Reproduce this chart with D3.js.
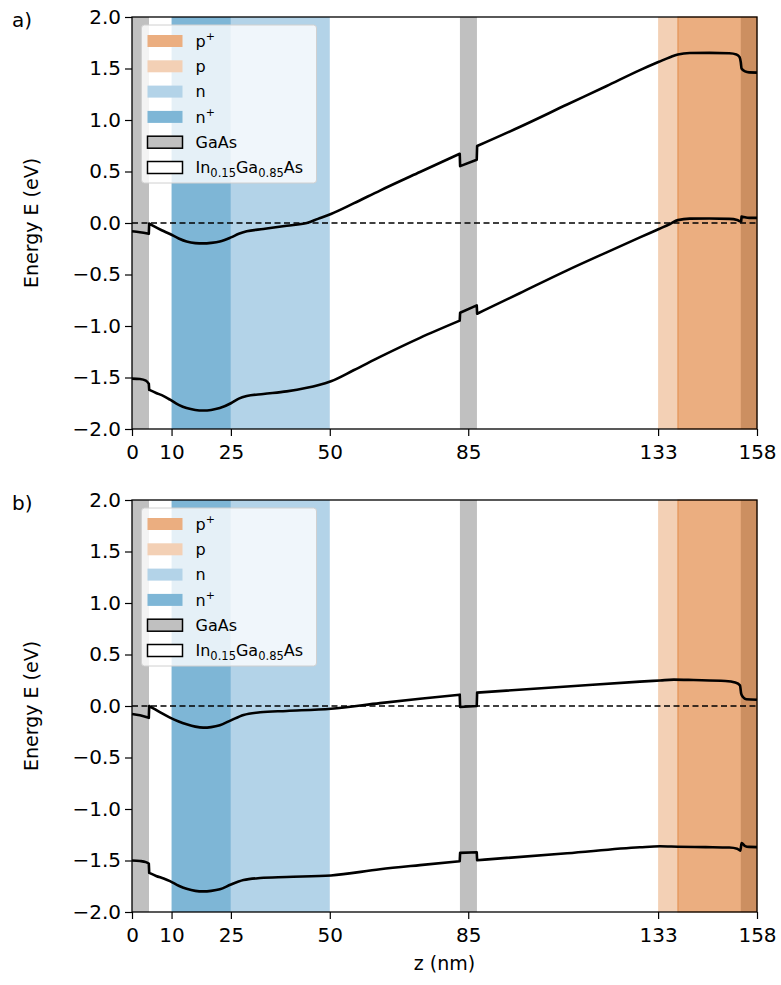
<!DOCTYPE html>
<html>
<head>
<meta charset="utf-8">
<script src="https://cdn.jsdelivr.net/npm/d3@7"></script>
<style>
  body { margin: 0; background: #fff; }
  text { font-family: "DejaVu Sans", sans-serif; }
</style>
</head>
<body>
<div id="my_dataviz"></div>
<script>
// band edges [z (nm), E (eV)]
var ecA = [[0,-0.08],[2,-0.09],[4.25,-0.105],[4.35,-0.005],[5.5,-0.03],[7.5,-0.07],[9.6,-0.107],[11.8,-0.15],[13.8,-0.18],[16,-0.195],[18,-0.198],[20,-0.193],[22.2,-0.18],[25,-0.14],[27,-0.105],[29,-0.081],[33.2,-0.058],[39.1,-0.026],[44.2,0.0],[47,0.04],[50.3,0.088],[56,0.19],[62.7,0.315],[72.8,0.495],[82.85,0.672],[82.95,0.552],[87.15,0.614],[87.25,0.747],[98,0.932],[110,1.15],[120,1.33],[128.4,1.484],[133.2,1.565],[136,1.61],[138,1.637],[141,1.651],[146,1.652],[151,1.648],[152.8,1.637],[153.6,1.61],[153.9,1.56],[154.1,1.5],[155,1.472],[156,1.462],[158,1.46]];
var evA = [[0,-1.511],[2,-1.515],[3.5,-1.53],[4.25,-1.56],[4.35,-1.62],[6.1,-1.65],[8,-1.68],[9.6,-1.715],[11.8,-1.765],[13.8,-1.797],[16,-1.815],[18,-1.82],[20,-1.815],[22.2,-1.797],[25,-1.75],[27,-1.705],[29,-1.68],[33.2,-1.66],[39.1,-1.635],[44.2,-1.6],[47,-1.575],[50.3,-1.536],[56,-1.43],[62.7,-1.3],[72.8,-1.115],[82.85,-0.948],[82.95,-0.871],[87.15,-0.8],[87.25,-0.881],[98,-0.682],[110,-0.46],[120,-0.285],[128.4,-0.14],[133.2,-0.058],[136,-0.01],[138,0.028],[141,0.042],[146,0.043],[151,0.04],[153,0.03],[153.8,0.015],[154,0.015],[154.1,0.062],[155,0.055],[156,0.05],[158,0.05]];
var ecB = [[0,-0.077],[2,-0.09],[4.25,-0.115],[4.35,0.0],[5.5,-0.025],[7.5,-0.07],[9.6,-0.113],[11.8,-0.15],[13.8,-0.177],[16,-0.2],[18,-0.21],[20,-0.205],[22.2,-0.187],[25,-0.139],[28.2,-0.087],[32.4,-0.061],[39.1,-0.048],[50.3,-0.026],[62.7,0.028],[72.8,0.07],[82.85,0.11],[82.95,-0.01],[87.15,0.0],[87.25,0.13],[110,0.19],[128.4,0.237],[133.5,0.248],[137,0.256],[142,0.252],[150,0.243],[152.5,0.228],[153.7,0.2],[154,0.12],[154.5,0.085],[155.3,0.066],[158,0.06]];
var evB = [[0,-1.5],[2,-1.505],[3.5,-1.516],[4.25,-1.53],[4.35,-1.62],[6.1,-1.65],[8,-1.675],[9.6,-1.7],[11.8,-1.745],[13.8,-1.775],[16,-1.795],[18,-1.8],[20,-1.795],[22.2,-1.78],[25,-1.733],[28.2,-1.69],[32.4,-1.67],[39.1,-1.66],[50.3,-1.645],[62.7,-1.585],[72.8,-1.545],[82.85,-1.507],[82.95,-1.426],[87.15,-1.42],[87.25,-1.497],[110,-1.43],[128.4,-1.372],[133.5,-1.362],[138,-1.366],[145,-1.37],[151,-1.374],[153,-1.385],[153.8,-1.405],[154.1,-1.33],[155,-1.36],[156,-1.368],[158,-1.37]];

// doping regions and GaAs layers
var dopNames = ["n+", "n", "p", "p+"];
var dopStart = [10, 25, 133, 138];
var dopEnd = [25, 50, 138, 158];
var gaasStart = [0, 82.9, 153.9];
var gaasEnd = [4.3, 87.2, 158];

var xTicks = [0, 10, 25, 50, 85, 133, 158];
var yTicks = [-2, -1.5, -1, -0.5, 0, 0.5, 1, 1.5, 2];

var panels = [
  {label: "a)", top: 17, ec: ecA, ev: evA},
  {label: "b)", top: 500, ec: ecB, ev: evB}
];

var width = 781, height = 985, left = 132, right = 757, ph = 412;

var fills = {"n+": "#7eb6d6", "n": "#b3d3e8", "p": "#f3d0b5", "p+": "#d75d01"};
var opac = {"n+": 1, "n": 1, "p": 1, "p+": 0.5};

var svg = d3.select("#my_dataviz")
  .append("svg")
    .attr("width", width)
    .attr("height", height);

var x = d3.scaleLinear().domain([0, 158]).range([left, right]);

// smooth each piece between interfaces, join pieces with straight steps
function bandPath(band, line) {
  var segs = [[band[0]]];
  for (var i = 1; i < band.length; i++) {
    if (band[i][0] - band[i - 1][0] < 0.15) segs.push([band[i]]);
    else segs[segs.length - 1].push(band[i]);
  }
  return segs.map(function (s, i) {
    var d = line(s).replace(/Z$/, "");
    return i ? "L" + d.slice(1) : d;
  }).join("");
}

panels.forEach(function (p) {
  var y = d3.scaleLinear().domain([-2, 2]).range([p.top + ph, p.top]);
  var g = svg.append("g");

  // GaAs layers (drawn first so p+ tints the last one)
  g.selectAll(".gaas")
    .data(gaasStart)
    .enter().append("rect")
      .attr("x", function (d) { return x(d); })
      .attr("y", p.top)
      .attr("width", function (d, i) { return x(gaasEnd[i]) - x(d); })
      .attr("height", ph)
      .attr("fill", "#c0c0c0");

  g.selectAll(".dop")
    .data(dopNames)
    .enter().append("rect")
      .attr("x", function (d, i) { return x(dopStart[i]); })
      .attr("y", p.top)
      .attr("width", function (d, i) { return x(dopEnd[i]) - x(dopStart[i]); })
      .attr("height", ph)
      .attr("fill", function (d) { return fills[d]; })
      .attr("fill-opacity", function (d) { return opac[d]; })
      .attr("stroke", function (d) { return d == "p+" ? fills[d] : "none"; })
      .attr("stroke-opacity", 0.5)
      .attr("stroke-width", 1);

  // fermi level
  g.append("line")
    .attr("x1", left).attr("x2", right)
    .attr("y1", y(0)).attr("y2", y(0))
    .attr("stroke", "#000")
    .attr("stroke-width", 1.6)
    .attr("stroke-dasharray", "6,3.5");

  var line = d3.line()
    .x(function (d) { return x(d[0]); })
    .y(function (d) { return y(d[1]); })
    .curve(d3.curveMonotoneX);

  [p.ec, p.ev].forEach(function (band) {
    g.append("path")
      .attr("d", bandPath(band, line))
      .attr("fill", "none")
      .attr("stroke", "#000")
      .attr("stroke-width", 2.6)
      .attr("stroke-linejoin", "round");
  });

  // axes
  var ax = g.append("g")
    .attr("transform", "translate(0," + (p.top + ph) + ")")
    .call(d3.axisBottom(x).tickValues(xTicks).tickSize(7).tickPadding(9).tickSizeOuter(0));
  var ay = g.append("g")
    .attr("transform", "translate(" + left + ",0)")
    .call(d3.axisLeft(y).tickValues(yTicks).tickFormat(d3.format(".1f")).tickSize(7).tickPadding(4).tickSizeOuter(0));
  [ax, ay].forEach(function (a) {
    a.select(".domain").remove();
    a.selectAll("text").style("font-size", "20px").attr("fill", "#000");
    a.selectAll("line").attr("stroke-width", 1.2);
  });

  g.append("rect")
    .attr("x", left).attr("y", p.top)
    .attr("width", right - left).attr("height", ph)
    .attr("fill", "none").attr("stroke", "#000").attr("stroke-width", 1.3);

  g.append("text")
    .attr("x", 12).attr("y", p.top + 10)
    .style("font-size", "20px")
    .text(p.label);

  g.append("text")
    .attr("transform", "translate(38," + (p.top + ph / 2) + ") rotate(-90)")
    .style("text-anchor", "middle")
    .style("font-size", "19px")
    .text("Energy E (eV)");

  // legend
  var lg = g.append("g").attr("transform", "translate(141.5," + (p.top + 8) + ")");
  lg.append("rect")
    .attr("width", 175).attr("height", 158).attr("rx", 3)
    .attr("fill", "#fff").attr("fill-opacity", 0.8)
    .attr("stroke", "#d0d0d0");
  var entries = [
    {fill: "#ebae80", edge: "none"},
    {fill: "#f3d0b5", edge: "none"},
    {fill: "#b3d3e8", edge: "none"},
    {fill: "#7eb6d6", edge: "none"},
    {fill: "#c0c0c0", edge: "#000"},
    {fill: "#ffffff", edge: "#000"}
  ];
  entries.forEach(function (e, i) {
    var cy = 16 + i * 25.3;
    lg.append("rect")
      .attr("x", 6).attr("y", cy - 6).attr("width", 35).attr("height", 12)
      .attr("fill", e.fill).attr("stroke", e.edge).attr("stroke-width", 1.5);
  });
  var tx = lg.selectAll(".lt")
    .data([0, 1, 2, 3, 4, 5])
    .enter().append("text")
      .attr("x", 54)
      .attr("y", function (d) { return 16 + d * 25.3; })
      .attr("dy", "0.36em")
      .style("font-size", "16px");
  tx.each(function (d) {
    var t = d3.select(this);
    if (d == 0) { t.append("tspan").text("p"); t.append("tspan").attr("dy", -7).style("font-size", "11px").text("+"); }
    if (d == 1) t.text("p");
    if (d == 2) t.text("n");
    if (d == 3) { t.append("tspan").text("n"); t.append("tspan").attr("dy", -7).style("font-size", "11px").text("+"); }
    if (d == 4) t.text("GaAs");
    if (d == 5) {
      t.append("tspan").text("In");
      t.append("tspan").attr("dy", 4).style("font-size", "11.5px").text("0.15");
      t.append("tspan").attr("dy", -4).text("Ga");
      t.append("tspan").attr("dy", 4).style("font-size", "11.5px").text("0.85");
      t.append("tspan").attr("dy", -4).text("As");
    }
  });
});

// text label for the x axis
svg.append("text")
  .attr("x", (left + right) / 2)
  .attr("y", 970)
  .style("text-anchor", "middle")
  .style("font-size", "19px")
  .text("z (nm)");
</script>
</body>
</html>
